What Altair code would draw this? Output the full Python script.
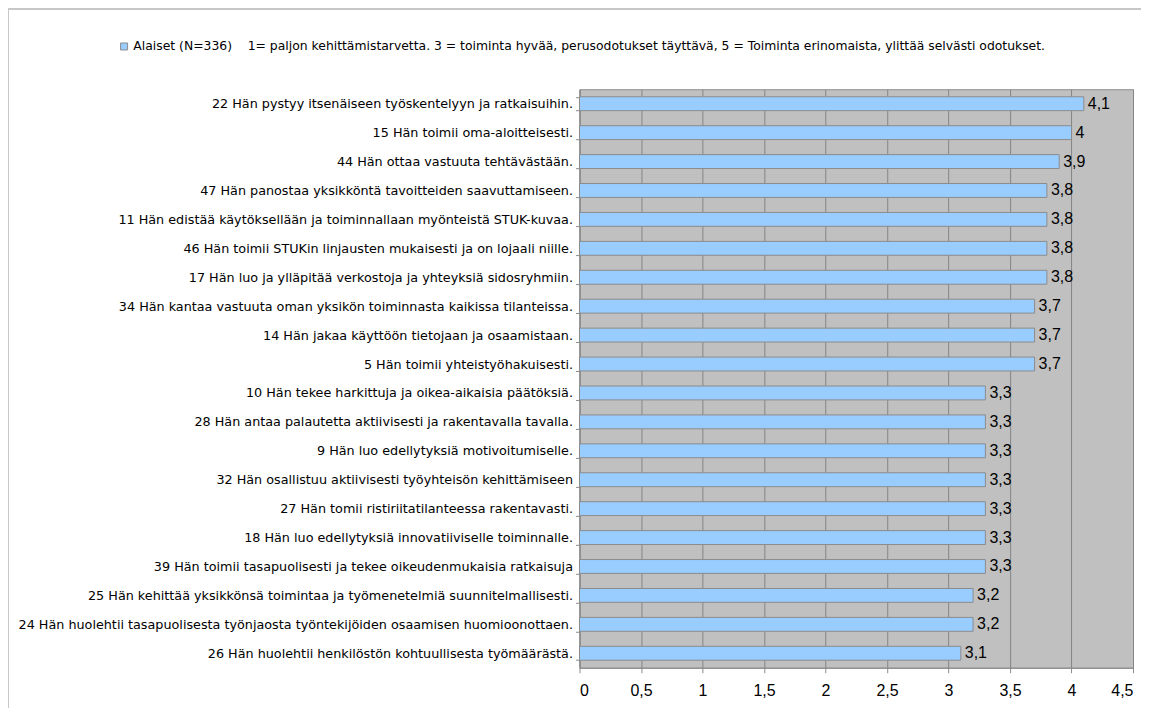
import altair as alt
import pandas as pd

items = [
    "22 Hän pystyy itsenäiseen työskentelyyn ja ratkaisuihin.",
    "15 Hän toimii oma-aloitteisesti.",
    "44 Hän ottaa vastuuta tehtävästään.",
    "47 Hän panostaa yksikköntä tavoitteiden saavuttamiseen.",
    "11 Hän edistää käytöksellään ja toiminnallaan myönteistä STUK-kuvaa.",
    "46 Hän toimii STUKin linjausten mukaisesti ja on lojaali niille.",
    "17 Hän luo ja ylläpitää verkostoja ja yhteyksiä sidosryhmiin.",
    "34 Hän kantaa vastuuta oman yksikön toiminnasta kaikissa tilanteissa.",
    "14 Hän jakaa käyttöön tietojaan ja osaamistaan.",
    "5 Hän toimii yhteistyöhakuisesti.",
    "10 Hän tekee harkittuja ja oikea-aikaisia päätöksiä.",
    "28 Hän antaa palautetta aktiivisesti ja rakentavalla tavalla.",
    "9 Hän luo edellytyksiä motivoitumiselle.",
    "32 Hän osallistuu aktiivisesti työyhteisön kehittämiseen",
    "27 Hän tomii ristiriitatilanteessa rakentavasti.",
    "18 Hän luo edellytyksiä innovatiiviselle toiminnalle.",
    "39 Hän toimii tasapuolisesti ja tekee oikeudenmukaisia ratkaisuja",
    "25 Hän kehittää yksikkönsä toimintaa ja työmenetelmiä suunnitelmallisesti.",
    "24 Hän huolehtii tasapuolisesta työnjaosta työntekijöiden osaamisen huomioonottaen.",
    "26 Hän huolehtii henkilöstön kohtuullisesta työmäärästä.",
]
values = [4.1, 4.0, 3.9, 3.8, 3.8, 3.8, 3.8, 3.7, 3.7, 3.7,
          3.3, 3.3, 3.3, 3.3, 3.3, 3.3, 3.3, 3.2, 3.2, 3.1]
series_name = ("Alaiset (N=336)\u00a0\u00a0\u00a0\u00a01= paljon kehittämistarvetta. 3 = toiminta hyvää, "
               "perusodotukset täyttävä, 5 = Toiminta erinomaista, ylittää selvästi odotukset.")
x_ticks = [0, 0.5, 1, 1.5, 2, 2.5, 3, 3.5, 4, 4.5]

df = pd.DataFrame({"item": items, "value": values, "series": series_name})

FONT = "Liberation Sans"
FONT_W = "DejaVu Sans"

base = alt.Chart(df).transform_calculate(
    label="replace(toString(datum.value), '.', ',')"
)

y_enc = alt.Y("item:N", sort=items, title=None,
              scale=alt.Scale(paddingInner=0.52, paddingOuter=0.26),
              axis=alt.Axis(labelFont=FONT_W, labelFontSize=12.8, labelColor="#000000",
                            labelLimit=700, tickSize=4, tickColor="#8c8c8c",
                            domainColor="#8c8c8c", labelPadding=3,
                            minExtent=572, maxExtent=572, grid=False,
                            tickBand="extent"))

bars = base.mark_bar(stroke="#8c8c8c", strokeWidth=1).encode(
    x=alt.X("value:Q", title=None,
            scale=alt.Scale(domain=[0, 4.5], nice=False),
            axis=alt.Axis(values=x_ticks, labelExpr="replace(toString(datum.value), '.', ',')",
                          labelFont=FONT, labelFontSize=16, labelColor="#000000",
                          tickSize=5, tickColor="#8c8c8c", domainColor="#8c8c8c",
                          gridColor="#858585", gridWidth=1, labelPadding=10)),
    y=y_enc,
    color=alt.Color("series:N", title=None,
                    scale=alt.Scale(range=["#99CCFF"]),
                    legend=alt.Legend(orient="none", legendX=-462, legendY=-49,
                                      symbolType="square", symbolSize=49,
                                      symbolStrokeColor="#8c8c8c", symbolStrokeWidth=1,
                                      labelFont=FONT_W, labelFontSize=12.4,
                                      labelOffset=3,
                                      labelColor="#000000", labelLimit=1200,
                                      padding=0)),
)

texts = base.mark_text(align="left", baseline="middle", dx=4, font=FONT,
                       fontSize=16, color="#000000").encode(
    x="value:Q",
    y=alt.Y("item:N", sort=items),
    text="label:N",
)

frame = alt.Chart(df).mark_rect(fillOpacity=0, stroke="#c8c8c8", strokeWidth=1).encode(
    x=alt.value(-571.5), x2=alt.value(1200), y=alt.value(-80.5), y2=alt.value(800)
)

chart = alt.layer(frame, bars, texts).properties(
    width=554, height=579,
    autosize=alt.AutoSizeParams(type="none"),
    padding={"left": 572, "top": 81, "right": 8, "bottom": 40},
    background="white",
).configure_view(
    fill="#C0C0C0", stroke="#8c8c8c", strokeWidth=1
)

chart.save("out.html", embed_options={"renderer": "svg", "actions": False})
